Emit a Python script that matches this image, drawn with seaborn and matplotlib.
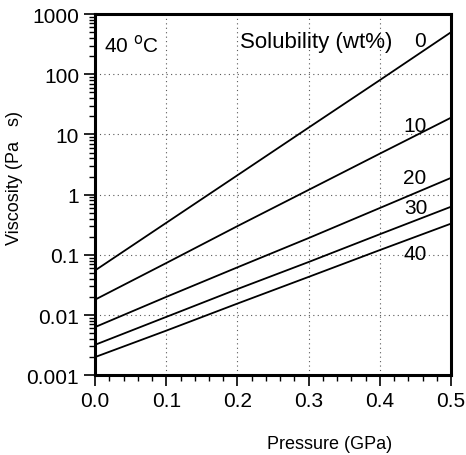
import numpy as np
import pandas as pd
import matplotlib
matplotlib.use("Agg")
import matplotlib.pyplot as plt
import matplotlib.ticker as mticker
import seaborn as sns

# Viscosity vs pressure at 40 C for several solubilities
pressure = [0.0, 0.1, 0.2, 0.3, 0.4, 0.5]
solubility = ["0", "10", "20", "30", "40"]
visc_0 = [0.055, 0.34, 2.1, 13, 80, 500]
visc_10 = [0.018, 0.073, 0.30, 1.2, 4.8, 19]
visc_20 = [0.0063, 0.020, 0.062, 0.19, 0.60, 1.9]
visc_30 = [0.0032, 0.0093, 0.027, 0.076, 0.22, 0.63]
visc_40 = [0.0020, 0.0055, 0.0155, 0.043, 0.12, 0.33]

rows = []
for s, vals in zip(solubility, [visc_0, visc_10, visc_20, visc_30, visc_40]):
    for p, v in zip(pressure, vals):
        rows.append({"Pressure": p, "Viscosity": v, "Solubility": s})
df = pd.DataFrame(rows)

sns.set_theme(style="ticks")
plt.rcParams["font.family"] = ["Liberation Sans", "DejaVu Sans"]
plt.rcParams["text.color"] = "black"
plt.rcParams["axes.labelcolor"] = "black"

fig = plt.figure(figsize=(4.66, 4.56), dpi=100)
ax = fig.add_axes([0.204, 0.175, 0.764, 0.792])

sns.lineplot(data=df, x="Pressure", y="Viscosity", hue="Solubility",
             palette=["black"] * 5, legend=False, linewidth=1.3, ax=ax)

ax.set_yscale("log")
ax.set_xlim(0, 0.5)
ax.set_ylim(0.001, 1000)

ax.xaxis.set_major_locator(mticker.MultipleLocator(0.1))
ax.xaxis.set_minor_locator(mticker.MultipleLocator(0.02))
ax.xaxis.set_major_formatter(mticker.FormatStrFormatter("%.1f"))
ax.yaxis.set_major_locator(mticker.LogLocator(base=10, numticks=10))
ax.yaxis.set_minor_locator(mticker.LogLocator(base=10, subs=np.arange(2, 10), numticks=10))
ax.yaxis.set_minor_formatter(mticker.NullFormatter())
ax.yaxis.set_major_formatter(mticker.FuncFormatter(lambda v, _: f"{v:g}"))

ax.tick_params(which="major", direction="out", length=8, width=1.2, labelsize=15, colors="black")
ax.tick_params(which="minor", direction="out", length=4, width=1.0, colors="black")

for sp in ax.spines.values():
    sp.set_linewidth(2.2)
    sp.set_color("black")

ax.grid(True, which="major", linestyle=(0, (1, 3)), color="0.35", linewidth=0.8)

ax.set_xlabel("Pressure (GPa)", fontsize=13)
ax.xaxis.set_label_coords(0.66, -0.166)
ax.set_ylabel("Viscosity (Pa   s)", fontsize=13)
ax.yaxis.set_label_coords(-0.202, 0.548)

ax.text(0.025, 0.917, "40 $^{\\mathrm{o}}$C", transform=ax.transAxes, fontsize=15, va="center")
ax.text(0.408, 0.925, "Solubility (wt%)", transform=ax.transAxes, fontsize=16, va="center")

label_pos = {"0": (0.456, 370), "10": (0.449, 14), "20": (0.449, 1.92),
             "30": (0.451, 0.61), "40": (0.449, 0.105)}
for s in solubility:
    px, py = label_pos[s]
    ax.text(px, py, s, fontsize=15, ha="center", va="center")

fig.savefig("out.png", dpi=100)
